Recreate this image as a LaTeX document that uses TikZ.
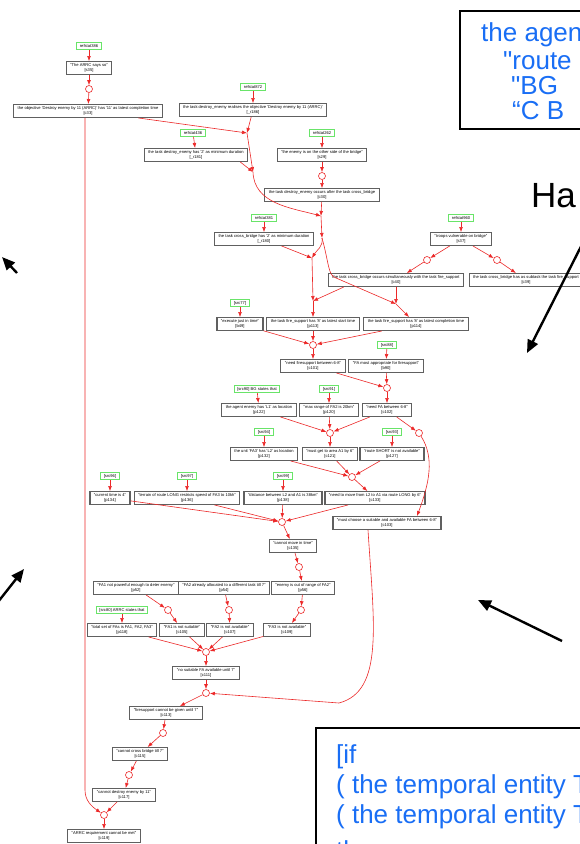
\documentclass[tikz,border=0pt]{standalone}
\usepackage{fontspec}
\setmainfont{Liberation Sans}[Ligatures=TeXOff]
\usetikzlibrary{arrows.meta}
\definecolor{edgered}{RGB}{236,40,40}
\definecolor{boxgray}{RGB}{96,96,96}
\definecolor{srcgreen}{RGB}{105,228,105}
\definecolor{noteblue}{RGB}{25,110,245}
\newcommand\tinyfont{\fontsize{4.1}{5.0}\selectfont}
\begin{document}
\begin{tikzpicture}[x=1pt,y=-1pt,
  box/.style={draw=boxgray, line width=1.1pt, fill=white, align=center,
    font=\tinyfont, inner xsep=4pt, inner ysep=2pt},
  src/.style={draw=srcgreen, line width=0.9pt, fill=white, font=\tinyfont,
    inner xsep=3pt, inner ysep=1.8pt},
  ring/.style={circle, draw=edgered, fill=white, line width=0.6pt,
    minimum size=7pt, inner sep=0pt},
  edge/.style={draw=edgered, line width=0.6pt, -{Latex[length=5pt,width=3.8pt]}},
  callout/.style={draw=black, line width=2.4pt, -{Triangle[length=13pt,width=11pt]}},
  note/.style={text=noteblue, font=\fontsize{26}{29}\selectfont, anchor=west, inner sep=0pt}]
\useasboundingbox (0,0) rectangle (580,844);
\clip (0,0) rectangle (580,844);
\fill[white] (0,0) rectangle (580,844);

% ---------- sources (green tags) ----------
\node[src] (g386) at (89,46)  {refstat386};
\node[src] (g872) at (253,87) {refstat872};
\node[src] (g436) at (193,133) {refstat436};
\node[src] (g262) at (322,133) {refstat262};
\node[src] (g381) at (264,218) {refstat381};
\node[src] (g960) at (461,218) {refstat960};
\node[src] (g77)  at (240,303) {[src77]};
\node[src] (g88)  at (387,345) {[src88]};
\node[src] (g90)  at (257,389) {[src90] BG states that};
\node[src] (g91)  at (329,389) {[src91]};
\node[src] (g94)  at (264,432) {[src94]};
\node[src] (g93)  at (392,432) {[src93]};
\node[src] (g96)  at (110,476) {[src96]};
\node[src] (g97)  at (187,476) {[src97]};
\node[src] (g99)  at (283,476) {[src99]};
\node[src] (g80)  at (122,610) {[src80] ARRC states that};

% ---------- statements ----------
\node[box] (s35)  at (89,68)   {"The ARRC says so"\\{}[s35]};
\node[box] (c33)  at (88,111)  {the objective 'Destroy enemy by 11 (ARRC)' has '11' as latest completion time\\{}[c33]};
\node[box] (r186) at (253,110) {the task destroy\_enemy realises the objective 'Destroy enemy by 11 (ARRC)'\\{}[\_r186]};
\node[box] (r181) at (196,155) {the task destroy\_enemy has '2' as minimum duration\\{}[\_r181]};
\node[box] (s29)  at (322,155) {"the enemy is on the other side of the bridge"\\{}[s29]};
\node[box] (c30)  at (322,195) {the task destroy\_enemy occurs after the task cross\_bridge\\{}[c30]};
\node[box] (r180) at (264,239) {the task cross\_bridge has '2' as minimum duration\\{}[\_r180]};
\node[box] (s37)  at (461,239) {"troops vulnerable on bridge"\\{}[s37]};
\node[box] (c40)  at (396,280) {the task cross\_bridge occurs simultaneously with the task fire\_support\\{}[c40]};
\node[box] (c39)  at (526,280) {the task cross\_bridge has as subtask the task fire\_support\\{}[c39]};
\node[box] (b49)  at (240,324) {"execute just in time"\\{}[b49]};
\node[box] (p113) at (313,324) {the task fire\_support has '8' as latest start time\\{}[p113]};
\node[box] (p114) at (416,324) {the task fire\_support has '8' as latest completion time\\{}[p114]};
\node[box] (c101) at (313,366) {"need firesupport between 6-8"\\{}[c101]};
\node[box] (b90)  at (386,366) {"FA most appropriate for firesupport"\\{}[b90]};
\node[box] (p122) at (259,410) {the agent enemy has 'L1' as location\\{}[p122]};
\node[box] (p120) at (329,410) {"max range of FA2 is 20km"\\{}[p120]};
\node[box] (c102) at (387,410) {"need FA between 6-8"\\{}[c102]};
\node[box] (p132) at (264,454) {the unit 'FA3' has 'L2' as location\\{}[p132]};
\node[box] (c121) at (330,454) {"must get to area A1 by 6"\\{}[c121]};
\node[box] (p127) at (392,454) {"route SHORT is not available"\\{}[p127]};
\node[box] (p134) at (110,498) {"current time is 4"\\{}[p134]};
\node[box] (p136) at (187,498) {"terrain of route LONG restricts speed of FA3 to 10kh"\\{}[p136]};
\node[box] (p138) at (283,498) {"distance between L2 and A1 is 38km"\\{}[p138]};
\node[box] (c133) at (375,498) {"need to move from L2 to A1 via route LONG by 6"\\{}[c133]};
\node[box] (c103) at (387,523) {"must choose a suitable and available FA between 6-8"\\{}[c103]};
\node[box] (c135) at (293,546) {"cannot move in time"\\{}[c135]};
\node[box] (p52)  at (136,588) {"FA1 not powerful enough to deter enemy"\\{}[p52]};
\node[box] (p54)  at (224,588) {"FA2 already allocated to a different task till 7"\\{}[p54]};
\node[box] (p56)  at (303,588) {"enemy is out of range of FA2"\\{}[p56]};
\node[box] (p118) at (122,630) {"total set of FAs is FA1, FA2, FA3"\\{}[p118]};
\node[box] (c105) at (182,630) {"FA1 is not suitable"\\{}[c105]};
\node[box] (c107) at (230,630) {"FA2 is not available"\\{}[c107]};
\node[box] (c109) at (287,630) {"FA3 is not available"\\{}[c109]};
\node[box] (c111) at (206,673) {"no suitable FA available until 7"\\{}[c111]};
\node[box] (c113) at (166,713) {"firesupport cannot be given until 7"\\{}[c113]};
\node[box] (c115) at (140,754) {"cannot cross bridge till 7"\\{}[c115]};
\node[box] (c117) at (124,795) {"cannot destroy enemy by 11"\\{}[c117]};
\node[box] (c119) at (104,836) {"ARRC requirement cannot be met"\\{}[c119]};

% ---------- inference rings ----------
\node[ring] (o1)  at (89,89) {};
\node[ring] (o2)  at (322,176) {};
\node[ring] (o3)  at (427,260) {};
\node[ring] (o4)  at (497,260) {};
\node[ring] (o5)  at (313,345) {};
\node[ring] (o6)  at (387,388) {};
\node[ring] (o7)  at (330,433) {};
\node[ring] (o8)  at (419,433) {};
\node[ring] (o9)  at (352,477) {};
\node[ring] (o10) at (282,522) {};
\node[ring] (o11) at (299,567) {};
\node[ring] (o12) at (168,610) {};
\node[ring] (o13) at (229,610) {};
\node[ring] (o14) at (301,610) {};
\node[ring] (o15) at (206,652) {};
\node[ring] (o16) at (206,693) {};
\node[ring] (o17) at (163,733) {};
\node[ring] (o18) at (129,775) {};
\node[ring] (o19) at (104,815) {};

% ---------- junction points ----------
\coordinate (J1) at (247,133);
\coordinate (J2) at (253,172);
\coordinate (J3) at (321,216);
\coordinate (J3b) at (322,238);
\coordinate (J4) at (312,258);
\coordinate (J5) at (313,301);
\coordinate (J6) at (396,304);

% ---------- edges ----------
\draw[edge] (g386) -- (s35);
\draw[edge] (s35) -- (o1);
\draw[edge] (o1) -- (c33);
\draw[edge] (c33) -- (J1);
\draw[edge] ([xshift=-3pt]c33.south) -- ++(0,672) to[out=-90,in=145] (o19);
\draw[edge] (g872) -- (r186);
\draw[edge] (r186) -- (J1);
\draw[edge] (J1) -- (J2);
\draw[edge] (g436) -- (r181);
\draw[edge] ([xshift=-8pt]r181.south east) -- (J2);
\draw[edge] (g262) -- (s29);
\draw[edge] (s29) -- (o2);
\draw[edge] (o2) -- (c30);
\draw[edge] (J2) to[out=-88,in=165] (J3);
\draw[edge] (c30) -- (J3);
\draw[edge] (J3) -- (J3b);
\draw[edge] (g381) -- (r180);
\draw[edge] (r180) -- (J4);
\draw[edge] (J3b) to[out=-80,in=60] (J4);
\draw[edge] (J3b) .. controls +(7,25) and +(-8,-2) .. ([xshift=-60pt,yshift=9pt]c40.south) -- (J6);
\draw[edge] (J4) -- (J5);
\draw[edge] ([xshift=16pt]c40.south west) -- (J5);
\draw[edge] (c40.south -| J6) -- (J6);
\draw[edge] (J5) -- (p113);
\draw[edge] (J6) -- (p114);
\draw[edge] (g960) -- (s37);
\draw[edge] (s37) -- (o3);
\draw[edge] (o3) -- (c40);
\draw[edge] (s37) -- (o4);
\draw[edge] (o4) -- (c39);
\draw[edge] (g77) -- (b49);
\draw[edge] (b49) -- (o5);
\draw[edge] (p113) -- (o5);
\draw[edge] (p114) -- (o5);
\draw[edge] (o5) -- (c101);
\draw[edge] (g88) -- (b90);
\draw[edge] (c101) -- (o6);
\draw[edge] (b90) -- (o6);
\draw[edge] (o6) -- (c102);
\draw[edge] (g90) -- (p122);
\draw[edge] (g91) -- (p120);
\draw[edge] (p122) -- (o7);
\draw[edge] (p120) -- (o7);
\draw[edge] (c102) -- (o7);
\draw[edge] (c102) -- (o8);
\draw[edge] (o7) -- (c121);
\draw[edge] (g94) -- (p132);
\draw[edge] (g93) -- (p127);
\draw[edge] (p132) -- (o9);
\draw[edge] (c121) -- (o9);
\draw[edge] (p127) -- (o9);
\draw[edge] (o9) -- (c133);
\draw[edge] (o8) .. controls +(16,25) and +(12,-32) .. ([xshift=30pt]c103.north);
\draw[edge] (g96) -- (p134);
\draw[edge] (g97) -- (p136);
\draw[edge] (g99) -- (p138);
\draw[edge] (p134) -- (o10);
\draw[edge] (p136) -- (o10);
\draw[edge] (p138) -- (o10);
\draw[edge] (c133) -- (o10);
\draw[edge] (o10) -- (c135);
\draw[edge] (c135) -- (o11);
\draw[edge] (o11) -- (p56);
\draw[edge] (p52) -- (o12);
\draw[edge] (o12) -- (c105);
\draw[edge] (p54) -- (o13);
\draw[edge] (o13) -- (c107);
\draw[edge] (p56) -- (o14);
\draw[edge] (o14) -- (c109);
\draw[edge] (g80) -- (p118);
\draw[edge] (p118) -- (o15);
\draw[edge] (c105) -- (o15);
\draw[edge] (c107) -- (o15);
\draw[edge] (c109) -- (o15);
\draw[edge] (o15) -- (c111);
\draw[edge] (c111) -- (o16);
\draw[edge] ([xshift=-19pt]c103.south) .. controls +(6,95) and +(45,-12) .. ([xshift=-48pt,yshift=-10pt]c103.south |- o16) -- (o16);
\draw[edge] (o16) -- (c113);
\draw[edge] (c113) -- (o17);
\draw[edge] (o17) -- (c115);
\draw[edge] (c115) -- (o18);
\draw[edge] (o18) -- (c117);
\draw[edge] (c117) -- (o19);
\draw[edge] (o19) -- (c119);

% ---------- annotation boxes ----------
\draw[line width=2pt] (460,11) rectangle (600,129);
\node[note] (n1) at (481,35)  {the agent};
\node[note] (n2) at (503,61)  {"route};
\node[note] (n3) at (511,86)  {"BG};
\node[note] (n4) at (512,111) {“C B};
\node[anchor=west, inner sep=0pt, font=\fontsize{35}{35}\selectfont] (ha) at (531,196) {Ha};

\draw[line width=2pt] (316,728) rectangle (600,880);
\node[note] (m1) at (336,757) {[if};
\node[note] (m2) at (336,787) {( the temporal entity T};
\node[note] (m3) at (336,817) {( the temporal entity T};
\node[note, anchor=base west] (m4) at (336,859) {then};

% ---------- pointers ----------
\coordinate (a1s) at (601,207);
\coordinate (a1e) at (527,353);
\coordinate (a2s) at (17,273);
\coordinate (a2e) at (2,257);
\coordinate (a3s) at (-6,607);
\coordinate (a3e) at (24,569);
\coordinate (a4s) at (562,641);
\coordinate (a4e) at (478,600);
\draw[callout] (a1s) -- (a1e);
\draw[callout] (a2s) -- (a2e);
\draw[callout] (a3s) -- (a3e);
\draw[callout] (a4s) -- (a4e);
\end{tikzpicture}
\end{document}
